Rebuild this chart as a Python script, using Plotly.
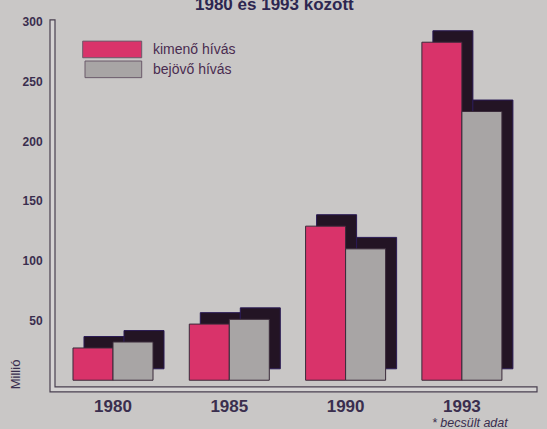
import plotly.graph_objects as go

# ---- data ----
years = ["1980", "1985", "1990", "1993"]
series_names = ["kimenő hívás", "bejövő hívás"]
outgoing = [27, 47, 129, 283]
incoming = [32, 51, 110, 225]
y_ticks = [50, 100, 150, 200, 250, 300]
y_tick_labels = ["50", "100", "150", "200", "250", "300"]
title_text = "1980 és 1993 között"
unit_text = "Millió"
note_text = "* becsült adat"

# ---- layout helpers (pixel -> paper) ----
W, H = 547, 429
def fx(px):
    return px / W
def fy(py):
    return 1 - py / H

BG = "#c9c7c6"
PINK = "#d9336a"
GRAY = "#a8a5a5"
SHADOW = "#231424"
TXT = "#3a2e4e"
FONT = "Liberation Sans, Arial, sans-serif"

# main plot area in pixels
x0p, x1p = 55, 530
y_top_p, y_bot_p = 15, 386.7
zero_p = 380.0
scale = 1.2          # px per unit
c0, step = 113.0, 116.3
xr = [(x0p - c0) / step, (x1p - c0) / step]
yr = [(zero_p - y_bot_p) / scale, (zero_p - y_top_p) / scale]
dx, dy = 11.0, 11.5  # shadow offset

xi = list(range(len(years)))
colors = [PINK, GRAY]
values = [outgoing, incoming]

fig = go.Figure()
# shadows (bottom subplot, shifted)
for name, vals in zip(series_names, values):
    fig.add_trace(go.Bar(x=xi, y=vals, name=name, xaxis="x", yaxis="y",
                         marker=dict(color=SHADOW, line=dict(color="#2a1a55", width=1)),
                         showlegend=False, hoverinfo="skip"))
# real bars (top subplot)
for name, vals, col in zip(series_names, values, colors):
    fig.add_trace(go.Bar(x=xi, y=vals, name=name, xaxis="x2", yaxis="y2",
                         marker=dict(color=col, line=dict(color="#3a2a3a", width=1)),
                         showlegend=False))

hidden = dict(visible=False, fixedrange=True)
fig.update_layout(
    width=W, height=H, autosize=False,
    margin=dict(l=0, r=0, t=0, b=0),
    paper_bgcolor=BG, plot_bgcolor="rgba(0,0,0,0)",
    barmode="group", bargap=0.312, bargroupgap=0,
    xaxis=dict(domain=[fx(x0p + dx), fx(x1p + dx)], range=xr, anchor="y", **hidden),
    yaxis=dict(domain=[fy(y_bot_p - dy), fy(y_top_p - dy)], range=yr, anchor="x", **hidden),
    xaxis2=dict(domain=[fx(x0p), fx(x1p)], range=xr, anchor="y2",
                tickmode="array", tickvals=xi, ticktext=years,
                showgrid=False, zeroline=False, showline=False,
                ticks="outside", ticklen=4, tickcolor="rgba(0,0,0,0)",
                tickfont=dict(family=FONT, size=17, color=TXT, weight="bold")),
    yaxis2=dict(domain=[fy(y_bot_p), fy(y_top_p)], range=yr, anchor="x2",
                tickmode="array", tickvals=y_ticks, ticktext=y_tick_labels,
                showgrid=False, zeroline=False, showline=False,
                ticks="outside", ticklen=9, tickcolor="rgba(0,0,0,0)",
                tickfont=dict(family=FONT, size=12, color=TXT, weight="bold")),
    showlegend=False,
)

# double-line L-shaped axis frame
path = (f"M {fx(50)} {fy(18)} L {fx(50)} {fy(391.7)} L {fx(537)} {fy(391.7)} "
        f"L {fx(537)} {fy(386.7)} L {fx(55)} {fy(386.7)} L {fx(55)} {fy(18)} Z")
fig.add_shape(type="path", path=path, xref="paper", yref="paper",
              fillcolor="#d5d3d3", line=dict(color="#4a4050", width=1.2), layer="below")

# legend swatches + labels
leg = [(39.3, 56, 82.7), (59.3, 76, 85)]
for (ya, yb, xa), name, col in zip(leg, series_names, colors):
    fig.add_shape(type="rect", xref="paper", yref="paper",
                  x0=fx(xa), x1=fx(141.7), y0=fy(yb), y1=fy(ya),
                  fillcolor=col, line=dict(color="#6a5a6a", width=1))
    fig.add_annotation(x=fx(151), y=fy((ya + yb) / 2), xref="paper", yref="paper",
                       text=name, showarrow=False, xanchor="left", yanchor="middle",
                       font=dict(family=FONT, size=14, color="#4a2c50"))

# title (cut at the top), unit, note
fig.add_annotation(x=fx(274), y=fy(14), xref="paper", yref="paper", text=title_text,
                   showarrow=False, xanchor="center", yanchor="bottom",
                   font=dict(family=FONT, size=17, color="#2c2650", weight="bold"))
fig.add_annotation(x=fx(15), y=fy(374), xref="paper", yref="paper", text=unit_text,
                   showarrow=False, textangle=-90, xanchor="center", yanchor="middle",
                   font=dict(family=FONT, size=13, color=TXT))
fig.add_annotation(x=fx(470), y=fy(423), xref="paper", yref="paper", text=note_text,
                   showarrow=False, xanchor="center", yanchor="middle",
                   font=dict(family=FONT, size=12.5, color=TXT, style="italic"))

fig.write_html("out.html", config={"displayModeBar": False},
               post_script="document.body.style.margin='0';document.body.style.overflow='hidden';")
